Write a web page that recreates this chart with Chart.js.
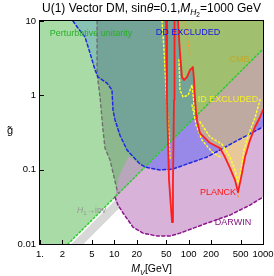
<!DOCTYPE html>
<html>
<head>
<meta charset="utf-8">
<script src="https://cdn.jsdelivr.net/npm/chart.js@4.4.1/dist/chart.umd.min.js"></script>
<style>
  html, body { margin: 0; padding: 0; background: #fff; }
  #wrap { width: 274px; height: 276px; }
</style>
</head>
<body>
<div id="wrap"><canvas id="dmChart" width="274" height="276"></canvas></div>
<script>
// tick values and labels
const xTicks = [1, 2, 5, 10, 20, 50, 100, 200, 500, 1000];
const xTickLabels = ["1.", "2", "5", "10", "20", "50", "100", "200", "500", "1000"];
const yTicks = [0.01, 0.1, 1, 10];
const yTickLabels = ["0.01", "0.1", "1", "10"];

// boundaries, points are [M_V (GeV), g~]
const unitarityLine = [[2.38, 0.01], [1000, 4.2]];
const ddLine = [[2.78, 10], [3.25, 8.0], [4.03, 6.1], [4.71, 3.7], [5.5, 2.2], [6.03, 1.76], [7.97, 1.46],
  [9.3, 1.18], [9.6, 0.63], [10.2, 0.47], [11.9, 0.29], [14.8, 0.184], [22.1, 0.119], [26, 0.109],
  [30.2, 0.105], [41.1, 0.099], [61.5, 0.102], [104, 0.123], [177, 0.148], [264, 0.184], [461, 0.25], [1000, 0.375]];
const lhcLine = [[5.85, 10], [5.85, 2.0], [6.42, 0.95], [7.04, 0.34], [7.49, 0.195], [8.75, 0.135], [10.9, 0.053], [11.5, 0.048]];
const darwinLine = [[10.2, 0.0428], [11.2, 0.0334], [13.1, 0.0261], [17.8, 0.0169], [24.3, 0.014], [37.5, 0.0128],
  [56.1, 0.0128], [76.4, 0.014], [177, 0.0191], [360, 0.0245], [668, 0.0334], [1000, 0.0428]];
const hinvBand = [[2.63, 0.01], [14, 0.053], [14, 0.0364], [3.85, 0.01]];
const planckPole = [[49.6, 10], [51.1, 0.87], [54.4, 0.072], [59.7, 0.0197], [61.5, 0.072], [63.5, 0.87], [64.5, 10]];
const planckMain = [[71.9, 10], [76.4, 3.7], [81.3, 1.76], [86.5, 1.61], [95, 1.76], [104, 2.19], [114, 2.4],
  [118, 1.61], [122, 0.865], [127, 0.533], [129, 0.465], [142, 0.311], [194, 0.228], [264, 0.195], [308, 0.148],
  [360, 0.105], [420, 0.0725], [461, 0.05], [506, 0.077], [573, 0.148], [668, 0.25], [781, 0.375], [912, 0.511], [1000, 0.634]];
const idLeft = [[43.8, 10], [46.6, 4.07], [49.6, 1.18], [54.4, 0.29], [56.1, 0.135]];
const idNotch = [[74, 3.0], [76.4, 1.18], [84, 0.95], [98, 1.0], [111, 1.38], [116, 0.9], [120, 0.6]];
const idInner = [[142, 0.44], [194, 0.275], [281, 0.22], [360, 0.148], [420, 0.099], [461, 0.066], [506, 0.099],
  [555, 0.184], [648, 0.31], [781, 0.5], [912, 0.87]];
const idOuter = [[111, 0.74], [126, 0.4], [151, 0.25], [206, 0.173], [281, 0.143]];
const cmbTop = [[89.3, 10], [95, 6.5], [101, 4.3], [104, 3.5]];
const cmbTip = [[461, 0.05], [461, 0.042]];
const vBelowDD = [[275, 0.185], [308, 0.148], [360, 0.105], [420, 0.0725], [461, 0.05], [506, 0.077], [573, 0.148],
  [668, 0.25], [735, 0.32], [461, 0.25]];
const darwinOverlap = [[10.2, 0.0428], [26, 0.109], [22.1, 0.119], [15.5, 0.15], [11.5, 0.08]];

const topRight = [1000, 10];
const unitarityEnd = unitarityLine[1];
const ddCut = 13;     // index of [26, 0.109] in ddLine
const planckCut = 9;  // index of [127, 0.533] in planckMain

// regions, back to front
const regions = [
  { pts: [[1, 0.01], unitarityLine[0], unitarityEnd, topRight, [1, 10]], color: "rgb(168,219,166)" },
  { pts: hinvBand, color: "rgb(216,216,216)" },
  { pts: [...darwinLine, unitarityEnd], color: "rgb(216,178,216)" },
  { pts: [...ddLine.slice(ddCut), unitarityEnd], color: "rgb(152,136,232)" },
  { pts: [...ddLine.slice(0, ddCut + 1), unitarityEnd, topRight], color: "rgb(136,194,178)" },
  { pts: [...lhcLine, unitarityEnd, topRight], color: "rgba(20,30,30,0.18)" },
  { pts: darwinOverlap, color: "rgb(184,166,188)" },
  { pts: [...planckMain.slice(0, planckCut + 1), unitarityEnd, topRight], color: "rgb(160,192,112)" },
  { pts: [...planckMain.slice(planckCut), unitarityEnd], color: "rgb(190,170,160)" },
  { pts: vBelowDD, color: "rgb(232,200,152)" }
];

const lines = [
  { pts: unitarityLine, color: "rgb(40,205,40)", width: 1.5, dash: [1.5, 2.5] },
  { pts: lhcLine, color: "rgb(110,110,110)", width: 1.4, dash: [3, 3] },
  { pts: ddLine, color: "rgb(30,40,225)", width: 1.5, dash: [3, 2.5] },
  { pts: darwinLine, color: "rgb(140,20,140)", width: 1.5, dash: [3, 2.5] },
  { pts: cmbTop, color: "rgb(255,150,40)", width: 1.3, dash: [1.5, 2.5] },
  { pts: cmbTip, color: "rgb(255,150,40)", width: 1.3, dash: [1.5, 2] },
  { pts: idLeft, color: "rgb(255,255,40)", width: 1.5, dash: [1.5, 2.5] },
  { pts: idNotch, color: "rgb(255,255,40)", width: 1.5, dash: [1.5, 2.5] },
  { pts: idInner, color: "rgb(255,255,40)", width: 1.5, dash: [1.5, 2.5] },
  { pts: idOuter, color: "rgb(255,255,40)", width: 1.5, dash: [1.5, 2.5] },
  { pts: planckPole, color: "rgb(255,30,30)", width: 1.8, dash: [] },
  { pts: planckMain, color: "rgb(255,30,30)", width: 1.8, dash: [] }
];

// text inside the plot: [text, M_V, g~, colour]
const notes = [
  ["Perturbative unitarity", 4.86, 6.78, "rgb(40,175,40)"],
  ["DD EXCLUDED", 98, 7.0, "rgb(20,20,230)"],
  ["CMB", 483, 2.99, "rgb(190,170,40)"],
  ["ID EXCLUDED", 338, 0.878, "rgb(240,240,40)"],
  ["PLANCK", 248, 0.0492, "rgb(255,20,20)"],
  ["DARWIN", 395, 0.0197, "rgb(130,20,130)"]
];

const toPts = arr => arr.map(([x, y]) => ({ x, y }));
const FONT = "'Liberation Sans', Arial, sans-serif";

const datasets = [];
const total = regions.length + lines.length;
regions.forEach((r, i) => {
  datasets.push({
    data: toPts(r.pts), fill: "shape", backgroundColor: r.color,
    borderWidth: 0, pointRadius: 0, tension: 0, order: total - i
  });
});
lines.forEach((l, i) => {
  datasets.push({
    data: toPts(l.pts), fill: false, borderColor: l.color, borderWidth: l.width,
    borderDash: l.dash, borderJoinStyle: "round", borderCapStyle: "round",
    pointRadius: 0, tension: 0, order: lines.length - i
  });
});

function drawRuns(ctx, runs, cx, cy) {
  let w = 0;
  runs.forEach(r => { ctx.font = r.style + r.size + "px " + FONT; w += ctx.measureText(r.text).width; });
  let x = cx - w / 2;
  ctx.textAlign = "left";
  ctx.textBaseline = "alphabetic";
  runs.forEach(r => {
    ctx.font = r.style + r.size + "px " + FONT;
    ctx.fillText(r.text, x, cy + (r.shift || 0));
    x += ctx.measureText(r.text).width;
  });
}

// frame, inward ticks and all the labels
const decor = {
  id: "decor",
  afterDatasetsDraw(chart) {
    const { ctx, chartArea: a, scales: { x, y } } = chart;
    ctx.save();
    ctx.strokeStyle = "#000";
    ctx.lineWidth = 1;
    ctx.strokeRect(a.left - 0.5, a.top - 0.5, a.right - a.left + 1, a.bottom - a.top + 1);
    ctx.beginPath();
    xTicks.forEach(v => {
      const px = Math.round(x.getPixelForValue(v)) + 0.5;
      ctx.moveTo(px, a.bottom); ctx.lineTo(px, a.bottom - 4);
    });
    yTicks.forEach(v => {
      const py = Math.round(y.getPixelForValue(v)) + 0.5;
      ctx.moveTo(a.left, py); ctx.lineTo(a.left + 4, py);
    });
    ctx.stroke();

    ctx.textAlign = "center";
    ctx.textBaseline = "middle";
    ctx.font = "9px " + FONT;
    notes.forEach(([t, mx, gy, c]) => {
      ctx.fillStyle = c;
      ctx.fillText(t, x.getPixelForValue(mx), y.getPixelForValue(gy));
    });

    // H1 -> inv
    ctx.fillStyle = "rgb(150,150,150)";
    drawRuns(ctx, [
      { text: "H", style: "italic ", size: 8.5 },
      { text: "1", style: "", size: 6, shift: 2 },
      { text: "\u2192inv", style: "", size: 8.5 }
    ], x.getPixelForValue(4.93), y.getPixelForValue(0.0286) + 3);

    // title
    ctx.fillStyle = "#000";
    drawRuns(ctx, [
      { text: "U(1) Vector DM, sin", style: "", size: 12 },
      { text: "\u03b8", style: "italic ", size: 12 },
      { text: "=0.1,", style: "", size: 12 },
      { text: "M", style: "italic ", size: 12 },
      { text: "H", style: "italic ", size: 8.5, shift: 3 },
      { text: "2", style: "", size: 6.5, shift: 5 },
      { text: "=1000 GeV", style: "", size: 12 }
    ], (a.left + a.right) / 2, 12);

    // axis titles
    drawRuns(ctx, [
      { text: "M", style: "italic ", size: 10.5 },
      { text: "V", style: "italic ", size: 7.5, shift: 2.5 },
      { text: "[GeV]", style: "", size: 10.5 }
    ], (a.left + a.right) / 2, 272);
    ctx.font = "11px " + FONT;
    ctx.textAlign = "center";
    ctx.textBaseline = "middle";
    ctx.fillText("g\u0303", 10, 131);
    ctx.restore();
  }
};

new Chart(document.getElementById("dmChart").getContext("2d"), {
  type: "line",
  data: { datasets },
  options: {
    responsive: false,
    animation: false,
    events: [],
    layout: { padding: { left: 0, right: 11, top: 21, bottom: 0 } },
    plugins: { legend: { display: false }, tooltip: { enabled: false } },
    scales: {
      x: {
        type: "logarithmic", min: 1, max: 1000,
        afterBuildTicks: s => { s.ticks = xTicks.map(v => ({ value: v })); },
        afterFit: s => { s.height = 32; s.paddingLeft = 0; s.paddingRight = 0; },
        grid: { display: false, drawTicks: false },
        border: { display: false },
        ticks: {
          autoSkip: false, maxRotation: 0, minRotation: 0, padding: 5, color: "#000",
          font: { family: FONT, size: 9.5 },
          callback: (v, i) => xTickLabels[i]
        }
      },
      y: {
        type: "logarithmic", min: 0.01, max: 10,
        afterBuildTicks: s => { s.ticks = yTicks.map(v => ({ value: v })); },
        afterFit: s => { s.width = 40; s.paddingTop = 0; s.paddingBottom = 0; },
        grid: { display: false, drawTicks: false },
        border: { display: false },
        ticks: {
          autoSkip: false, padding: 4, color: "#000",
          font: { family: FONT, size: 9.5 },
          callback: (v, i) => yTickLabels[i]
        }
      }
    }
  },
  plugins: [decor]
});
</script>
</body>
</html>
